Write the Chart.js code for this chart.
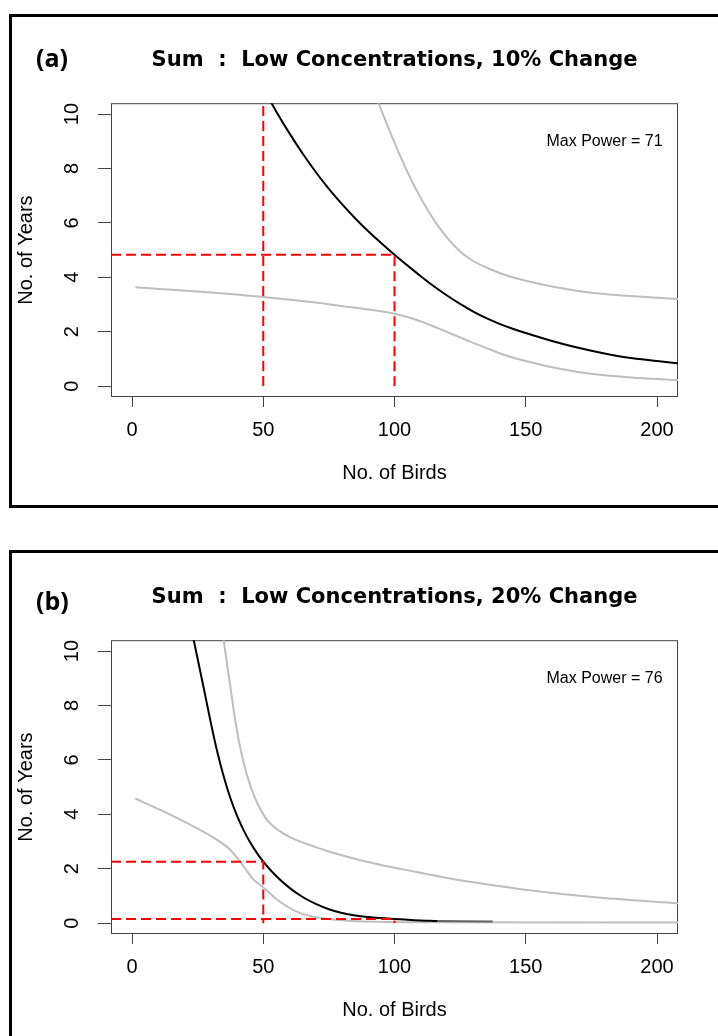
<!DOCTYPE html>
<html>
<head>
<meta charset="utf-8">
<script src="https://cdn.jsdelivr.net/npm/chart.js@4.4.1/dist/chart.umd.min.js"></script>
<style>
  html, body { margin: 0; padding: 0; background: #fff; }
  body { position: relative; width: 718px; height: 1036px; overflow: hidden; }
  .frame { position: absolute; left: 9px; width: 800px; border: 3px solid #000; }
  #frameA { top: 14px; height: 488px; }
  #frameB { top: 550px; height: 600px; }
  canvas { position: absolute; left: 0; }
  #chartA { top: 0; }
  #chartB { top: 537px; }
</style>
</head>
<body>
<div class="frame" id="frameA"></div>
<div class="frame" id="frameB"></div>
<canvas id="chartA" width="718" height="537"></canvas>
<canvas id="chartB" width="718" height="537"></canvas>
<script>
// axes
const xTicks = [0, 50, 100, 150, 200];
const yTicks = [0, 2, 4, 6, 8, 10];
const xRange = [-8, 208];
const yRange = [-0.4, 10.4];

// (a) 10% change
const aMidBirds = [50, 55, 60, 65, 70, 75, 80, 85, 90, 95, 100, 105, 110, 115, 120, 125, 130, 135, 140, 145, 150, 160, 170, 180, 190, 200, 210];
const aMidYears = [10.94, 10.09, 9.29, 8.55, 7.87, 7.25, 6.69, 6.17, 5.69, 5.25, 4.83, 4.43, 4.04, 3.67, 3.33, 3.02, 2.74, 2.50, 2.29, 2.11, 1.95, 1.66, 1.41, 1.20, 1.03, 0.92, 0.82];
const aUpBirds = [92, 95, 100, 105, 110, 115, 120, 125, 130, 135, 140, 145, 150, 160, 170, 180, 190, 200, 210];
const aUpYears = [10.88, 10.14, 8.95, 7.86, 6.91, 6.11, 5.46, 4.95, 4.60, 4.36, 4.16, 4.00, 3.87, 3.66, 3.50, 3.39, 3.31, 3.245, 3.19];
const aLowBirds = [1.3, 25, 50, 70, 80.8, 85, 90, 95, 100, 105, 110, 115, 120, 125, 130, 135, 140, 145, 150, 160, 170, 180, 190, 200, 210];
const aLowYears = [3.63, 3.48, 3.28, 3.07, 2.93, 2.88, 2.82, 2.75, 2.66, 2.54, 2.38, 2.19, 1.99, 1.79, 1.59, 1.40, 1.21, 1.05, 0.92, 0.69, 0.52, 0.40, 0.32, 0.26, 0.215];
const aGuideBirds = [50, 100];
const aGuideYears = [4.83];

// (b) 20% change
const bMidBirds = [22, 23.5, 25, 27.5, 30, 32.5, 35, 37.5, 40, 42.5, 45, 47.5, 50, 55, 60, 65, 70, 75, 80, 85, 90, 95, 100, 107.5, 116.4];
const bMidYears = [11.1, 10.41, 9.72, 8.56, 7.38, 6.29, 5.37, 4.59, 3.95, 3.42, 2.97, 2.59, 2.26, 1.72, 1.295, 0.96, 0.705, 0.51, 0.37, 0.28, 0.225, 0.185, 0.15, 0.11, 0.08];
const bTailBirds = [116.4, 137.4];
const bTailYears = [0.08, 0.06];
const bUpBirds = [34.3, 34.9, 37.5, 39.4, 42, 45.2, 48.4, 51.5, 55, 57.9, 62, 68.1, 74.4, 87.1, 94.8, 106.2, 120.2, 135, 150.4, 177.5, 210];
const bUpYears = [10.85, 10.41, 8.68, 7.40, 6.11, 5.01, 4.28, 3.79, 3.47, 3.28, 3.08, 2.86, 2.65, 2.31, 2.14, 1.92, 1.66, 1.43, 1.22, 0.94, 0.72];
const bLowBirds = [1.3, 10.8, 23.5, 32.4, 37.5, 42.6, 46.4, 50, 55.3, 61.7, 68.1, 80.8, 93.5, 110, 210];
const bLowYears = [4.58, 4.16, 3.55, 3.06, 2.69, 2.08, 1.59, 1.32, 0.86, 0.47, 0.25, 0.10, 0.05, 0.03, 0.02];
const bGuideBirds = [50, 100];
const bGuideYears = [2.26, 0.15];

Chart.defaults.font.family = '"Liberation Sans", Arial, sans-serif';
Chart.defaults.color = '#000';

function zip(xs, ys) {
  return xs.map(function (x, i) { return { x: x, y: ys[i] }; });
}

function curve(xs, ys, color) {
  return {
    data: zip(xs, ys),
    borderColor: color,
    borderWidth: 2,
    pointRadius: 0,
    cubicInterpolationMode: 'monotone',
    fill: false
  };
}

function guide(points) {
  return {
    data: points,
    borderColor: '#ff0000',
    borderWidth: 2,
    borderDash: [10, 5],
    pointRadius: 0,
    tension: 0,
    fill: false
  };
}

// plot box, "Max Power" note and the panel letter
const panelExtras = {
  id: 'panelExtras',
  beforeDatasetsDraw: function (chart) {
    const ctx = chart.ctx, a = chart.chartArea;
    ctx.save();
    ctx.strokeStyle = '#444';
    ctx.lineWidth = 1;
    ctx.strokeRect(a.left + 0.5, a.top + 0.5, a.right - a.left - 1, a.bottom - a.top - 1);
    ctx.restore();
  },
  afterDraw: function (chart, args, opts) {
    const ctx = chart.ctx, x = chart.scales.x, y = chart.scales.y;
    ctx.save();
    ctx.fillStyle = '#000';
    ctx.textBaseline = 'middle';
    ctx.textAlign = 'center';
    ctx.font = '16px "Liberation Sans", Arial, sans-serif';
    ctx.fillText(opts.note, x.getPixelForValue(180), y.getPixelForValue(9));
    ctx.textAlign = 'left';
    ctx.font = 'bold 25px "Open Sans", sans-serif';
    ctx.fillText(opts.tag, 36, opts.tagY);
    ctx.restore();
  }
};

function makePanel(id, title, tag, tagY, note, datasets) {
  return new Chart(document.getElementById(id), {
    type: 'line',
    data: { datasets: datasets },
    plugins: [panelExtras],
    options: {
      responsive: false,
      animation: false,
      layout: { padding: { top: 0, right: 40, bottom: 0, left: 0 } },
      plugins: {
        legend: { display: false },
        tooltip: { enabled: false },
        title: {
          display: true,
          text: title,
          fullSize: false,
          color: '#000',
          font: { family: '"DejaVu Sans", sans-serif', size: 21, weight: 'bold' },
          padding: { top: 48, bottom: 30 }
        },
        panelExtras: { tag: tag, tagY: tagY, note: note }
      },
      scales: {
        x: {
          type: 'linear',
          min: xRange[0],
          max: xRange[1],
          afterBuildTicks: function (s) { s.ticks = xTicks.map(function (v) { return { value: v }; }); },
          afterFit: function (s) { s.height = 140; },
          grid: { drawOnChartArea: false, tickLength: 10, color: '#444' },
          border: { display: false },
          ticks: { padding: 11, autoSkip: false, maxRotation: 0, font: { size: 20 } },
          title: { display: true, text: 'No. of Birds', font: { size: 20 }, padding: { top: 0, bottom: 52 } }
        },
        y: {
          type: 'linear',
          min: yRange[0],
          max: yRange[1],
          afterBuildTicks: function (s) { s.ticks = yTicks.map(function (v) { return { value: v }; }); },
          afterFit: function (s) { s.width = 111; },
          grid: { drawOnChartArea: false, tickLength: 13, color: '#444' },
          border: { display: false },
          ticks: { padding: 14, autoSkip: false, minRotation: 90, maxRotation: 90, crossAlign: 'center', font: { size: 20 } },
          title: { display: true, text: 'No. of Years', font: { size: 20 }, padding: { top: 14, bottom: 0 } }
        }
      }
    }
  });
}

makePanel('chartA', 'Sum  :  Low Concentrations, 10% Change', '(a)', 60, 'Max Power = 71', [
  guide([{ x: aGuideBirds[0], y: 0 }, { x: aGuideBirds[0], y: yRange[1] }]),
  guide([{ x: xRange[0], y: aGuideYears[0] }, { x: aGuideBirds[1], y: aGuideYears[0] }, { x: aGuideBirds[1], y: 0 }]),
  curve(aMidBirds, aMidYears, '#000000'),
  curve(aUpBirds, aUpYears, '#bebebe'),
  curve(aLowBirds, aLowYears, '#bebebe')
]);

makePanel('chartB', 'Sum  :  Low Concentrations, 20% Change', '(b)', 66, 'Max Power = 76', [
  guide([{ x: xRange[0], y: bGuideYears[0] }, { x: bGuideBirds[0], y: bGuideYears[0] }, { x: bGuideBirds[0], y: 0 }]),
  guide([{ x: xRange[0], y: bGuideYears[1] }, { x: bGuideBirds[1], y: bGuideYears[1] }, { x: bGuideBirds[1], y: 0 }]),
  curve(bMidBirds, bMidYears, '#000000'),
  curve(bTailBirds, bTailYears, '#666666'),
  curve(bUpBirds, bUpYears, '#bebebe'),
  curve(bLowBirds, bLowYears, '#bebebe')
]);
</script>
</body>
</html>
